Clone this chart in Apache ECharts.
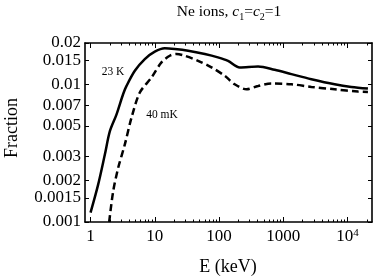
<!DOCTYPE html>
<html><head><meta charset="utf-8">
<script src="https://cdn.jsdelivr.net/npm/echarts@6/dist/echarts.min.js"></script>
<style>html,body{margin:0;padding:0;background:#fff}#c{width:377px;height:278px}</style>
</head><body><div id="c"></div>
<script>
// Energy (keV) and fraction values
const x23K = [1, 1.31, 1.67, 2.0, 2.54, 3.21, 3.63, 4.89, 6.99, 10, 14.3, 20.5, 33, 60, 96, 138, 210, 405, 735, 1337, 2735, 6300, 11450, 20750];
const y23K = [0.00117, 0.00186, 0.00309, 0.00457, 0.00606, 0.00848, 0.00975, 0.01256, 0.01528, 0.01729, 0.0183, 0.01808, 0.01757, 0.01663, 0.01573, 0.01485, 0.0133, 0.01352, 0.01277, 0.01188, 0.01092, 0.01003, 0.00959, 0.00933];
const x40mK = [1.95, 2.25, 2.69, 3.41, 4.34, 5.85, 8.89, 12.7, 17.1, 21.7, 29.3, 47.1, 76.2, 123, 175, 267, 405, 654, 1337, 2735, 6300, 14500, 20750];
const y40mK = [0.001, 0.00167, 0.00247, 0.00365, 0.00573, 0.00873, 0.01122, 0.01446, 0.01616, 0.01663, 0.01616, 0.01485, 0.0133, 0.01153, 0.01002, 0.00922, 0.00975, 0.01016, 0.01003, 0.00959, 0.00922, 0.00887, 0.00881];
const xTicks = [1, 10, 100, 1000, 10000];
const xMinorTicks = [2,3,4,5,6,7,8,9,20,30,40,50,60,70,80,90,200,300,400,500,600,700,800,900,2000,3000,4000,5000,6000,7000,8000,9000,20000];
const yTicks = [0.001, 0.0015, 0.002, 0.003, 0.005, 0.007, 0.01, 0.015, 0.02];
const xMin = 0.82, xMax = 24000, yMin = 0.001, yMax = 0.02;

const FONT = '"Liberation Serif", "DejaVu Serif", serif';
const chart = echarts.init(document.getElementById('c'), null, {renderer: 'canvas'});
function xAx(pos, ticks, len, showLabel, showLine) {
  return {
    type: 'log', logBase: 10, min: xMin, max: xMax, position: pos,
    axisLine: {show: showLine, onZero: false, lineStyle: {color: '#000', width: 1.6}},
    splitLine: {show: false},
    axisTick: {show: true, inside: true, length: len, customValues: ticks, lineStyle: {color: '#000', width: 1}},
    axisLabel: {show: showLabel, customValues: ticks, color: '#000', fontFamily: FONT, fontSize: 17, margin: 6,
      formatter: v => v >= 10000 ? '10{sup|' + Math.round(Math.log10(v)) + '}' : String(v),
      rich: {sup: {fontSize: 11, verticalAlign: 'top', fontFamily: FONT, color: '#000', padding: [0,0,7,0]}}}
  };
}
function yAx(pos, showLabel) {
  return {
    type: 'log', logBase: 10, min: yMin, max: yMax, position: pos,
    axisLine: {show: true, onZero: false, lineStyle: {color: '#000', width: 1.6}},
    splitLine: {show: false},
    axisTick: {show: true, inside: true, length: 4, customValues: yTicks, lineStyle: {color: '#000', width: 1}},
    axisLabel: {show: showLabel, customValues: yTicks, color: '#000', fontFamily: FONT, fontSize: 17, margin: 4,
      formatter: v => String(v)}
  };
}
chart.setOption({
  animation: false,
  grid: {left: 85, right: 5, top: 43, bottom: 56, containLabel: false},
  xAxis: [xAx('bottom', xTicks, 5, true, true), xAx('bottom', xMinorTicks, 2.5, false, false),
          xAx('top', xTicks, 5, false, true), xAx('top', xMinorTicks, 2.5, false, false)],
  yAxis: [yAx('left', true), yAx('right', false)],
  series: [
    {type: 'line', xAxisIndex: 0, yAxisIndex: 0, data: x23K.map((x, i) => [x, y23K[i]]), showSymbol: false, smooth: 0.3,
     lineStyle: {color: '#000', width: 2.5}},
    {type: 'line', xAxisIndex: 0, yAxisIndex: 0, data: x40mK.map((x, i) => [x, y40mK[i]]), showSymbol: false, smooth: 0.3,
     lineStyle: {color: '#000', width: 2.5, type: [7, 4]}}
  ],
  graphic: [
    {type: 'text', x: 229, y: 12, style: {text: 'Ne ions, {i|c}{sub|1}={i|c}{sub|2}=1', fontFamily: FONT, fontSize: 15.5, fill: '#000', align: 'center', verticalAlign: 'middle', lineHeight: 20,
      rich: {i: {fontStyle: 'italic', fontFamily: FONT, fontSize: 15.5, lineHeight: 20}, sub: {fontSize: 10, fontFamily: FONT, lineHeight: 14, verticalAlign: 'bottom'}}}},
    {type: 'text', x: 113, y: 72, style: {text: '23 K', fontFamily: FONT, fontSize: 11.5, fill: '#000', align: 'center', verticalAlign: 'middle'}},
    {type: 'text', x: 162, y: 115, style: {text: '40 mK', fontFamily: FONT, fontSize: 11.5, fill: '#000', align: 'center', verticalAlign: 'middle'}},
    {type: 'text', x: 228, y: 267, style: {text: 'E (keV)', fontFamily: FONT, fontSize: 18, fill: '#000', align: 'center', verticalAlign: 'middle'}},
    {type: 'text', x: 12, y: 128, rotation: Math.PI / 2, style: {text: 'Fraction', fontFamily: FONT, fontSize: 18, fill: '#000', align: 'center', verticalAlign: 'middle'}}
  ]
});
</script></body></html>
